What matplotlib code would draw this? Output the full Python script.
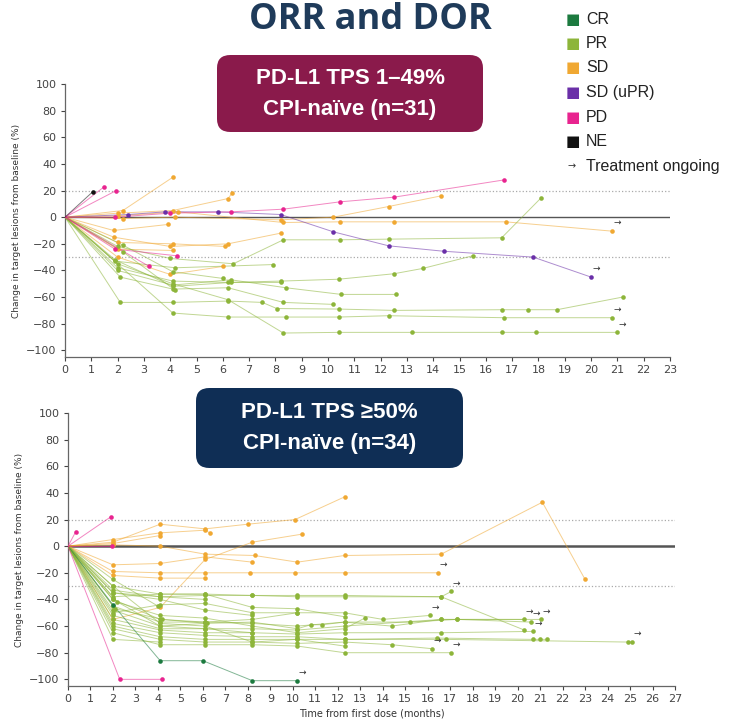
import matplotlib.pyplot as plt
from matplotlib.patches import FancyBboxPatch

# colores por mejor respuesta
colores = {
    "CR": "#1c7a3f",
    "PR": "#8db53a",
    "SD": "#f0a832",
    "SD (uPR)": "#6a2fa8",
    "PD": "#e8248f",
    "NE": "#111111",
}

# Panel superior: PD-L1 TPS 1-49%  -> (tiempos, valores, en tratamiento)
top_ne = [
    ([0, 1.05], [0, 19], False),
]
top_pd = [
    ([0, 1.5], [0, 23], False),
    ([0, 1.95], [0, 20], False),
    ([0, 1.9, 4.25], [0, -24, -29], False),
    ([0, 3.2], [0, -37], False),
    ([0, 1.9, 4.0, 6.3, 8.3, 10.45, 12.5, 16.7], [0, 0, 3, 4, 6, 11.5, 15, 28], False),
]
top_upr = [
    ([0, 2.4, 3.8, 5.8, 8.2, 10.2, 12.3, 14.4, 17.8, 20.0],
     [0, 2, 4, 4, 2, -11, -21.5, -25.6, -30, -45], True),
]
top_sd = [
    ([0, 2.2, 4.1], [0, 5, 30], False),
    ([0, 2.0, 4.1, 6.2, 6.35], [0, 3, 5, 14, 18], False),
    ([0, 2.2, 4.2, 8.2, 10.2, 12.3, 14.3], [0, -1, 0, -2, 0, 8, 16], False),
    ([0, 2.0, 4.3, 8.3, 10.45, 12.5, 16.75, 20.8], [0, 1, 4, -4, -3.5, -3.5, -3.5, -10.5], True),
    ([0, 1.85, 3.9], [0, -10, -5.5], False),
    ([0, 1.85, 4.0, 6.2, 8.2], [0, -15, -22, -20, -12], False),
    ([0, 2.0, 4.1, 6.1], [0, -19, -20, -22], False),
    ([0, 2.0, 4.1], [0, -24, -25], False),
    ([0, 2.0, 4.0, 6.0], [0, -30, -43, -37], False),
]
top_pr = [
    ([0, 2.0, 4.0, 6.4, 8.3, 10.45, 12.3, 16.6, 18.1],
     [0, -22, -31, -35, -17, -17, -16.5, -15.5, 14.5], False),
    ([0, 1.9, 4.2, 7.9], [0, -33, -38, -35.6], False),
    ([0, 2.0, 4.1, 6.2, 8.2, 10.4, 12.5, 13.6, 15.5],
     [0, -38, -48, -49, -48, -46.6, -42.5, -38.5, -29], False),
    ([0, 2.0, 4.1, 6.3, 8.4, 10.5, 12.6], [0, -40, -51, -47, -53, -58, -58], False),
    ([0, 2.1, 4.1, 6.2, 8.3, 10.2], [0, -45, -54, -53, -64, -65.5], False),
    ([0, 2.1, 4.1, 6.2, 7.5, 8.05, 10.4, 12.5, 16.6, 17.6, 18.7, 21.2],
     [0, -64, -64, -63, -64, -68.6, -69, -70, -69.5, -69.5, -69.5, -60], False),
    ([0, 4.1, 6.2, 8.4, 10.4, 12.3, 16.7, 20.8],
     [0, -72, -75, -75, -75, -74, -75.5, -75.5], True),
    ([0, 2.0, 4.1, 6.2, 8.3, 10.4, 13.2, 16.6, 17.9, 21.0],
     [0, -35, -50, -62, -87, -86.5, -86.5, -86.5, -86.5, -86.5], True),
    ([0, 1.9, 4.1, 6.3, 8.2], [0, -32, -52, -49, -49], False),
    ([0, 2.2, 4.1, 6.0], [0, -21, -41, -46], False),
    ([0, 2.2, 4.2], [0, -26, -55], False),
]

# Panel inferior: PD-L1 TPS >=50%
bot_pd = [
    ([0, 0.35], [0, 11], False),
    ([0, 1.9], [0, 22], False),
    ([0, 1.95], [0, 0], False),
    ([0, 2.3, 4.2], [0, -100, -100], False),
]
bot_cr = [
    ([0, 2.0, 4.1, 6.0, 8.2, 10.2], [0, -44, -86, -86, -101, -101], True),
]
bot_sd = [
    ([0, 2.0, 4.1, 6.1, 8.0, 10.1, 12.3], [0, 3, 16.5, 13, 16.5, 20, 37], False),
    ([0, 2.0, 4.1, 6.1, 6.3], [0, 5, 10, 12, 10], False),
    ([0, 2.0, 4.1, 6.1, 8.3, 10.2, 12.3, 16.6, 21.1, 23.0],
     [0, 1, 0, -6, -7, -12, -7, -6, 33, -25], False),
    ([0, 2.0, 4.1, 6.1, 8.2, 10.4], [0, -55, -46, -10, 3, 9], False),
    ([0, 2.0, 4.1, 6.1, 8.2], [0, -14, -13, -8, -12], False),
    ([0, 2.0, 4.1, 6.1, 8.1, 10.1, 12.3, 16.45], [0, -19, -20, -20, -20, -20, -20, -20], True),
    ([0, 2.0, 4.1, 6.1], [0, -22, -24, -24], False),
    ([0, 2.0, 4.1], [0, 2, 8], False),
]
bot_pr = [
    ([0, 2.0, 4.1, 6.1, 8.2, 10.2, 12.3, 16.6, 17.05],
     [0, -30, -36, -36, -37, -37, -37, -38, -34], True),
    ([0, 2.0, 4.1, 6.1, 8.2, 10.2, 12.3, 16.6, 20.3],
     [0, -35, -38, -37, -37, -38, -38, -38, -63], False),
    ([0, 2.0, 4.1, 6.1, 8.2, 10.2, 12.3, 14.0, 16.1],
     [0, -40, -55, -57, -55, -50, -50, -55, -52], True),
    ([0, 2.0, 4.1, 6.1, 8.2, 10.2, 12.3, 14.4, 16.6, 20.3],
     [0, -45, -57, -57, -58, -60, -57, -60, -55, -55], True),
    ([0, 2.0, 4.1, 6.1, 8.2, 10.2, 10.8, 11.3, 12.3, 15.2, 17.3, 20.6],
     [0, -48, -60, -58, -57, -62, -59, -59, -57, -57, -55, -57], True),
    ([0, 2.0, 4.1, 6.1, 8.2, 10.2, 12.3, 16.6, 17.3, 21.05],
     [0, -52, -62, -62, -62, -63, -60, -55, -55, -55], True),
    ([0, 2.0, 4.1, 6.1, 8.2, 10.2, 12.3, 16.6, 20.7],
     [0, -55, -63, -65, -65, -66, -65, -65, -64], True),
    ([0, 2.0, 4.1, 6.1, 8.2, 10.2, 12.3, 16.4, 20.7, 21.0, 21.3],
     [0, -58, -65, -67, -68, -68, -70, -69, -70, -70, -70], False),
    ([0, 2.0, 4.1, 6.1, 8.2, 10.2, 12.3, 16.8, 24.9, 25.1],
     [0, -60, -68, -70, -70, -70, -70, -70, -72, -72], True),
    ([0, 2.0, 4.1, 6.1, 8.2, 10.2, 12.3, 14.4, 16.2],
     [0, -62, -70, -72, -72, -73, -72, -74, -77], True),
    ([0, 2.0, 4.1, 6.1, 8.2, 10.2, 12.3, 17.05],
     [0, -65, -74, -74, -74, -75, -80, -80], True),
    ([0, 2.0, 4.1, 6.1, 8.2, 10.2], [0, -50, -44, -43, -50, -50], False),
    ([0, 2.0, 4.1, 6.1, 8.2], [0, -35, -40, -48, -52], False),
    ([0, 2.0, 4.1, 6.1], [0, -33, -38, -40], False),
    ([0, 2.0, 4.1], [0, -70, -72], False),
    ([0, 2.2, 4.1, 6.1, 8.2, 10.2, 12.3, 13.2], [0, -42, -52, -54, -60, -65, -62, -54], False),
    ([0, 2.0, 4.1, 6.1, 8.2, 10.2, 12.3], [0, -38, -36, -36, -46, -47, -53], False),
    ([0, 2.0, 4.0], [0, -25, -45], False),
    ([0, 2.0, 4.1, 6.1, 8.2, 10.2, 12.3], [0, -30, -58, -60, -72, -70, -75], False),
    ([0, 2.0, 4.1, 6.1, 8.2], [0, -40, -60, -62, -65], False),
    ([0, 2.1, 4.2, 6.2], [0, -47, -55, -58], False),
]

yticks = list(range(-100, 101, 20))
top_xticks = list(range(0, 24))
bot_xticks = list(range(0, 28))


def dibujar_grupo(ax, pacientes, cat):
    c = colores[cat]
    for t, v, sigue in pacientes:
        ax.plot(t, v, '-', color=c, lw=0.7, alpha=0.55, zorder=3)
        ax.plot(t[1:], v[1:], 'o', color=c, ms=3.3, mec='none', zorder=4)
        if sigue:
            ax.annotate('→', xy=(t[-1], v[-1]), xytext=(1, 3), textcoords='offset points',
                        fontsize=6.5, color='#333333', ha='left', va='bottom', zorder=5)


def preparar_eje(ax, xmax, xticks, grosor0):
    ax.set_xlim(0, xmax)
    ax.set_ylim(-105, 100)
    ax.set_xticks(xticks)
    ax.set_yticks(yticks)
    ax.tick_params(labelsize=8, colors='#444444', length=3, width=0.8, pad=3)
    for s in ['top', 'right']:
        ax.spines[s].set_visible(False)
    for s in ['left', 'bottom']:
        ax.spines[s].set_color('#666666')
        ax.spines[s].set_linewidth(0.9)
    ax.axhline(20, color='#aaaaaa', lw=0.9, ls=':', zorder=1)
    ax.axhline(-30, color='#aaaaaa', lw=0.9, ls=':', zorder=1)
    ax.axhline(0, color='#555555', lw=grosor0, zorder=2)
    ax.set_ylabel('Change in target lesions from baseline (%)', fontsize=6.5, color='#333333', labelpad=4)
    ax.set_facecolor('none')


fig = plt.figure(figsize=(7.43, 7.2), dpi=100)
ax1 = fig.add_axes([65 / 743, 1 - 357 / 720, 605 / 743, 273 / 720])
ax2 = fig.add_axes([68 / 743, 1 - 686 / 720, 607 / 743, 273 / 720])

preparar_eje(ax1, 23, top_xticks, 1.0)
preparar_eje(ax2, 27, bot_xticks, 1.8)

dibujar_grupo(ax1, top_sd, "SD")
dibujar_grupo(ax1, top_pr, "PR")
dibujar_grupo(ax1, top_upr, "SD (uPR)")
dibujar_grupo(ax1, top_pd, "PD")
dibujar_grupo(ax1, top_ne, "NE")

dibujar_grupo(ax2, bot_sd, "SD")
dibujar_grupo(ax2, bot_pr, "PR")
dibujar_grupo(ax2, bot_cr, "CR")
dibujar_grupo(ax2, bot_pd, "PD")

ax2.set_xlabel('Time from first dose (months)', fontsize=7, color='#333333', labelpad=3)

# titulo
fig.text(0.498, 1 - 29 / 720, 'ORR and DOR', fontsize=26, fontweight='bold', color='#1f3b5a',
         ha='center', va='baseline', family=['Open Sans', 'DejaVu Sans'])

# cajas de los paneles
def caja(x0, y0, x1, y1, color, linea1, linea2):
    W, H = 743, 720
    p = FancyBboxPatch((x0 / W, 1 - y1 / H), (x1 - x0) / W, (y1 - y0) / H,
                       boxstyle='round,pad=0,rounding_size=0.018', transform=fig.transFigure,
                       facecolor=color, edgecolor='none', zorder=10)
    fig.patches.append(p)
    cx = (x0 + x1) / 2 / W
    fig.text(cx, 1 - (y0 + 24) / H, linea1, color='white', fontsize=16, fontweight='bold',
             ha='center', va='center', family=['Liberation Sans'], zorder=11)
    fig.text(cx, 1 - (y0 + 55) / H, linea2, color='white', fontsize=16, fontweight='bold',
             ha='center', va='center', family=['Liberation Sans'], zorder=11)

caja(217, 55, 483, 132, '#8a1a4b', 'PD-L1 TPS 1–49%', 'CPI-naïve (n=31)')
caja(196, 388, 463, 468, '#0f2e55', 'PD-L1 TPS ≥50%', 'CPI-naïve (n=34)')

# leyenda
etiquetas = ["CR", "PR", "SD", "SD (uPR)", "PD", "NE"]
for i, e in enumerate(etiquetas):
    y = 1 - (19 + i * 24.5) / 720
    fig.text(566 / 743, y, '■', color=colores[e], fontsize=11, ha='left', va='center',
             family=['DejaVu Sans'])
    fig.text(586 / 743, y, e, color='#222222', fontsize=11.5, ha='left', va='center',
             family=['Liberation Sans'])
fig.text(568 / 743, 1 - 166 / 720, '→', color='#333333', fontsize=7, ha='left', va='center',
         family=['DejaVu Sans'])
fig.text(586 / 743, 1 - 167 / 720, 'Treatment ongoing', color='#222222', fontsize=11.5,
         ha='left', va='center', family=['Liberation Sans'])

fig.savefig('out.png', dpi=100)
